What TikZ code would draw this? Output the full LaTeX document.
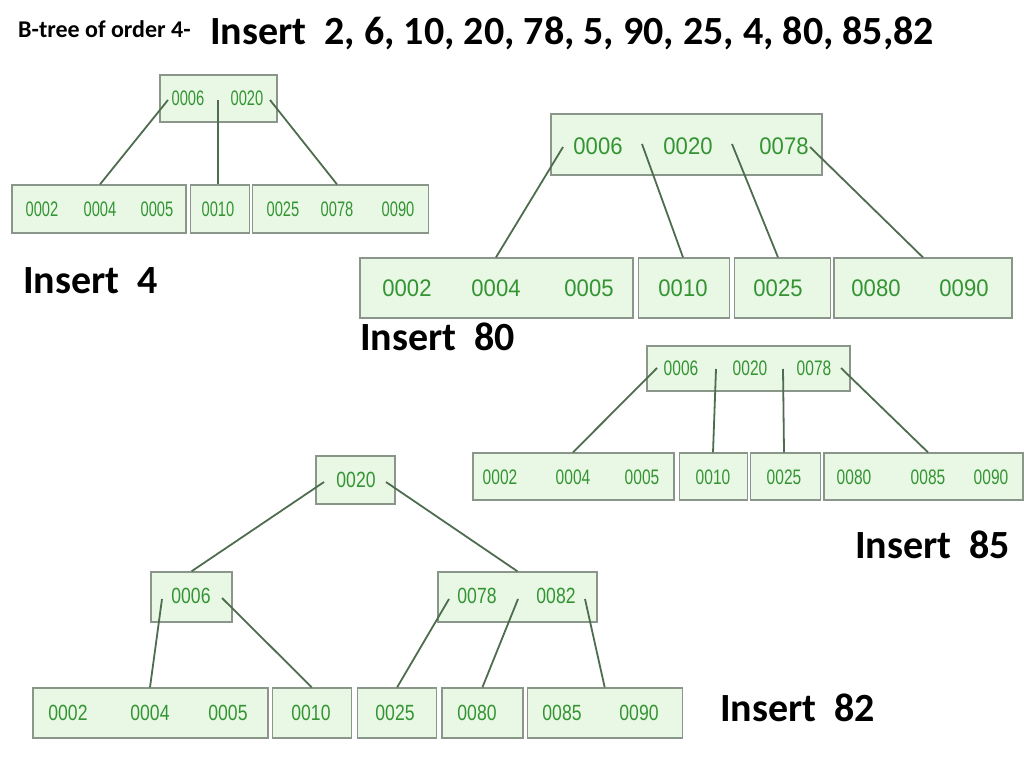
\documentclass[tikz,border=0pt]{standalone}
\usepackage{fontspec}
\setmainfont{Carlito}
\newfontfamily\keyfontA[FakeStretch=0.70]{Liberation Sans}
\newfontfamily\keyfontB[FakeStretch=0.92]{Liberation Sans}
\newfontfamily\keyfontC[FakeStretch=0.74]{Liberation Sans}
\newfontfamily\keyfontD[FakeStretch=0.80]{Liberation Sans}
\usepackage{xcolor}
\usepackage{tikz}
\usetikzlibrary{positioning}

\definecolor{boxfill}{RGB}{232,248,228}
\definecolor{boxline}{RGB}{138,150,138}
\definecolor{keygreen}{RGB}{52,148,52}
\definecolor{linkgrey}{RGB}{78,108,78}

\begin{document}
\begin{tikzpicture}[
  x=1pt, y=-1pt,
  nodebox/.style={
    draw=boxline,
    fill=boxfill,
    line width=1.3pt,
    inner sep=0pt
  },
  keyA/.style={text=keygreen, inner sep=0pt, font=\keyfontA\fontsize{21}{21}\selectfont},
  keyB/.style={text=keygreen, inner sep=0pt, font=\keyfontB\fontsize{24}{24}\selectfont},
  keyC/.style={text=keygreen, inner sep=0pt, font=\keyfontC\fontsize{21}{21}\selectfont},
  keyD/.style={text=keygreen, inner sep=0pt, font=\keyfontD\fontsize{22}{22}\selectfont},
  link/.style={
    draw=linkgrey,
    line width=1.8pt
  },
  caption/.style={
    inner sep=0pt,
    anchor=base west,
    font=\bfseries\fontsize{40}{40}\selectfont
  },
  node distance=3pt
]
\useasboundingbox (0,0) rectangle (1024,767);

% Heading
\node[caption, font=\bfseries\fontsize{24}{24}\selectfont] (heading) at (18,38) {B-tree of order 4-};
\node[caption] (sequence) at (210,45) {Insert\ \ 2, 6, 10, 20, 78, 5, 90, 25, 4, 80, 85,82};

% Insert 4
\node[nodebox, minimum width=117, minimum height=47] (t1root) at (218.5,98.5) {};
\node[keyA] (t1k0006) at (188,98) {0006};
\node[keyA] (t1k0020) at (247,98) {0020};
\node[nodebox, minimum width=174, minimum height=48] (t1leafa) at (99,209) {};
\node[nodebox, minimum width=59, minimum height=48, right=3pt of t1leafa] (t1leafb) {};
\node[nodebox, minimum width=176, minimum height=48, right=2pt of t1leafb] (t1leafc) {};
\node[keyA] (t1k0002) at (42,209) {0002};
\node[keyA] (t1k0004) at (100,209) {0004};
\node[keyA] (t1k0005) at (157,209) {0005};
\node[keyA] (t1k0010) at (218,209) {0010};
\node[keyA] (t1k0025) at (283,209) {0025};
\node[keyA] (t1k0078) at (337,209) {0078};
\node[keyA] (t1k0090) at (398,209) {0090};
\coordinate (t1pa) at (168,100);
\coordinate (t1pb) at (218,100);
\coordinate (t1pc) at (270,100);
\draw[link] (t1pa) -- (t1leafa.north -| t1k0004);
\draw[link] (t1pb) -- (t1leafb.north -| t1k0010);
\draw[link] (t1pc) -- (t1leafc.north -| t1k0078);
\node[caption] (label4) at (23,293) {Insert\ \ 4};

% Insert 80
\node[nodebox, minimum width=271, minimum height=61] (t2root) at (686.5,144.5) {};
\node[keyB] (t2k0006) at (598,146) {0006};
\node[keyB] (t2k0020) at (688,146) {0020};
\node[keyB] (t2k0078) at (784,146) {0078};
\node[nodebox, minimum width=273, minimum height=60] (t2leafa) at (496.5,288) {};
\node[nodebox, minimum width=91, minimum height=60, right=4pt of t2leafa] (t2leafb) {};
\node[nodebox, minimum width=96, minimum height=60, right=4pt of t2leafb] (t2leafc) {};
\node[nodebox, minimum width=178, minimum height=60, right=2pt of t2leafc] (t2leafd) {};
\node[keyB] (t2k0002) at (407,288) {0002};
\node[keyB] (t2k0004) at (496,288) {0004};
\node[keyB] (t2k0005) at (589,288) {0005};
\node[keyB] (t2k0010) at (683,288) {0010};
\node[keyB] (t2k0025) at (778,288) {0025};
\node[keyB] (t2k0080) at (876,288) {0080};
\node[keyB] (t2k0090) at (964,288) {0090};
\coordinate (t2pa) at (563,147);
\coordinate (t2pb) at (642,144);
\coordinate (t2pc) at (732,144);
\coordinate (t2pd) at (810,147);
\draw[link] (t2pa) -- (t2leafa.north -| t2k0004);
\draw[link] (t2pb) -- (t2leafb.north -| t2k0010);
\draw[link] (t2pc) -- (t2leafc.north -| t2k0025);
\draw[link] (t2pd) -- (t2leafd.north);
\node[caption] (label80) at (360,350) {Insert\ \ 80};

% Insert 85
\node[nodebox, minimum width=203, minimum height=45] (t3root) at (748.5,368.5) {};
\node[keyC] (t3k0006) at (681,368) {0006};
\node[keyC] (t3k0020) at (750,368) {0020};
\node[keyC] (t3k0078) at (814,368) {0078};
\node[nodebox, minimum width=201, minimum height=47] (t3leafa) at (573.5,476.5) {};
\node[nodebox, minimum width=68, minimum height=47, right=4pt of t3leafa] (t3leafb) {};
\node[nodebox, minimum width=70, minimum height=47, right=2pt of t3leafb] (t3leafc) {};
\node[nodebox, minimum width=199, minimum height=47, right=2pt of t3leafc] (t3leafd) {};
\node[keyC] (t3k0002) at (500,477) {0002};
\node[keyC] (t3k0004) at (573,477) {0004};
\node[keyC] (t3k0005) at (642,477) {0005};
\node[keyC] (t3k0010) at (713,477) {0010};
\node[keyC] (t3k0025) at (784,477) {0025};
\node[keyC] (t3k0080) at (854,477) {0080};
\node[keyC] (t3k0085) at (928,477) {0085};
\node[keyC] (t3k0090) at (991,477) {0090};
\coordinate (t3pa) at (657,368);
\coordinate (t3pb) at (716,369);
\coordinate (t3pc) at (783,369);
\coordinate (t3pd) at (841,368);
\draw[link] (t3pa) -- (t3leafa.north -| t3k0004);
\draw[link] (t3pb) -- (t3leafb.north -| t3k0010);
\draw[link] (t3pc) -- (t3leafc.north -| t3k0025);
\draw[link] (t3pd) -- (t3leafd.north -| t3k0085);
\node[caption] (label85) at (855,558) {Insert\ \ 85};

% Insert 82
\node[nodebox, minimum width=79, minimum height=48] (t4root) at (355.5,480) {};
\node[keyD] (t4k0020) at (356,480) {0020};
\node[nodebox, minimum width=81, minimum height=50] (t4left) at (191.5,597) {};
\node[nodebox, minimum width=159, minimum height=50] (t4right) at (517.5,597) {};
\node[keyD] (t4k0006) at (191,596) {0006};
\node[keyD] (t4k0078) at (477,596) {0078};
\node[keyD] (t4k0082) at (556,596) {0082};
\node[nodebox, minimum width=235, minimum height=50] (t4leafa) at (150.5,713) {};
\node[nodebox, minimum width=79, minimum height=50, right=3pt of t4leafa] (t4leafb) {};
\node[nodebox, minimum width=79, minimum height=50, right=5pt of t4leafb] (t4leafc) {};
\node[nodebox, minimum width=81, minimum height=50, right=4pt of t4leafc] (t4leafd) {};
\node[nodebox, minimum width=155, minimum height=50, right=3pt of t4leafd] (t4leafe) {};
\node[keyD] (t4k0002) at (68,713) {0002};
\node[keyD] (t4k0004) at (150,713) {0004};
\node[keyD] (t4k0005) at (228,713) {0005};
\node[keyD] (t4k0010) at (311,713) {0010};
\node[keyD] (t4k0025) at (395,713) {0025};
\node[keyD] (t4k0080) at (477,713) {0080};
\node[keyD] (t4k0085) at (562,713) {0085};
\node[keyD] (t4k0090) at (639,713) {0090};
\coordinate (t4pa) at (324,482);
\coordinate (t4pb) at (386,482);
\coordinate (t4pc) at (162,599);
\coordinate (t4pd) at (222,598);
\coordinate (t4pe) at (449,599);
\coordinate (t4pf) at (518,599);
\coordinate (t4pg) at (585,599);
\draw[link] (t4pa) -- (t4left.north);
\draw[link] (t4pb) -- (t4right.north);
\draw[link] (t4pc) -- (t4leafa.north -| t4k0004);
\draw[link] (t4pd) -- (t4leafb.north);
\draw[link] (t4pe) -- (t4leafc.north);
\draw[link] (t4pf) -- (t4leafd.north);
\draw[link] (t4pg) -- (t4leafe.north);
\node[caption] (label82) at (720,721) {Insert\ \ 82};

\end{tikzpicture}
\end{document}
